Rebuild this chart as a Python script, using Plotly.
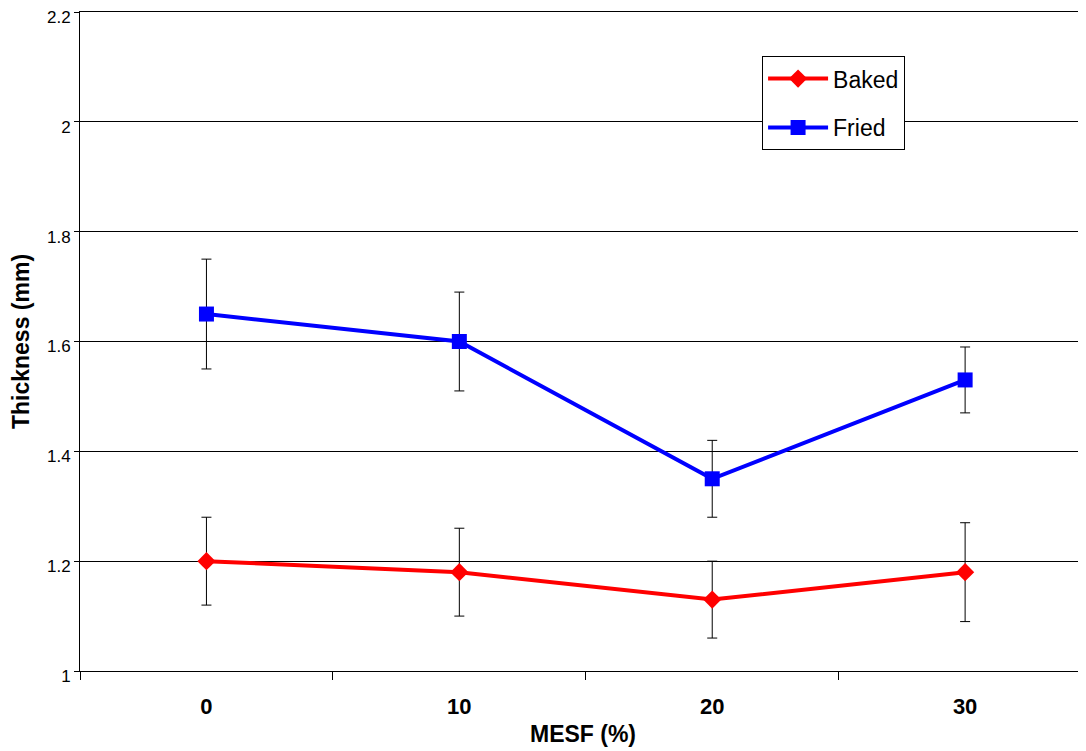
import plotly.graph_objects as go

categories = ["0", "10", "20", "30"]
baked = [1.20, 1.18, 1.13, 1.18]
baked_err = [0.08, 0.08, 0.07, 0.09]
fried = [1.65, 1.60, 1.35, 1.53]
fried_err = [0.10, 0.09, 0.07, 0.06]
xpos = list(range(len(categories)))

FONT = "Liberation Sans, Arial, sans-serif"

fig = go.Figure()
fig.add_trace(go.Scatter(
    x=xpos, y=baked, name="Baked", mode="lines+markers",
    line=dict(color="#ff0000", width=4),
    marker=dict(symbol="diamond", size=14, color="#ff0000"),
    error_y=dict(type="data", array=baked_err, color="black", thickness=1, width=5),
    legendgroup="a",
))
fig.add_trace(go.Scatter(
    x=xpos, y=fried, name="Fried", mode="lines+markers",
    line=dict(color="#0000ff", width=4),
    marker=dict(symbol="square", size=15, color="#0000ff"),
    error_y=dict(type="data", array=fried_err, color="black", thickness=1, width=5),
    legendgroup="b",
))

fig.update_layout(
    width=1078, height=743,
    margin=dict(l=72, r=0, t=4, b=80),
    paper_bgcolor="white", plot_bgcolor="white",
    font=dict(family=FONT, color="black"),
    showlegend=True,
    legend=dict(
        x=0.678, y=0.933, xanchor="left", yanchor="top",
        bgcolor="white", bordercolor="black", borderwidth=1,
        font=dict(size=23, family=FONT),
        tracegroupgap=16, traceorder="grouped",
        itemwidth=60, entrywidth=162,
    ),
    xaxis=dict(
        range=[-0.5, 3.478], automargin=False,
        tickmode="array", tickvals=xpos, ticktext=categories,
        ticks="", showgrid=False, zeroline=False,
        showline=True, linecolor="black", linewidth=1, mirror=True,
        tickfont=dict(size=22, family=FONT, weight="bold"),
        ticklabelstandoff=16,
        minor=dict(tickmode="array", tickvals=[-0.5, 0.5, 1.5, 2.5],
                   ticks="outside", ticklen=8, tickcolor="black", tickwidth=1, showgrid=False),
        title=dict(text="<b>MESF (%)</b>", font=dict(size=23, family=FONT), standoff=7),
    ),
    yaxis=dict(
        range=[1.0, 2.2], automargin=False, tickmode="array",
        tickvals=[1.0, 1.2, 1.4, 1.6, 1.8, 2.0, 2.2],
        ticktext=["1", "1.2", "1.4", "1.6", "1.8", "2", "2.2"],
        ticks="outside", ticklen=5, tickcolor="black",
        ticklabeloverflow="allow", ticklabelshift=5,
        showgrid=True, gridcolor="black", gridwidth=1,
        zeroline=False, showline=True, linecolor="black", linewidth=1,
        tickfont=dict(size=17, family=FONT),
        title=dict(text="<b>Thickness (mm)</b>", font=dict(size=23, family=FONT), standoff=10),
    ),
)

fig.write_html("out.html")
